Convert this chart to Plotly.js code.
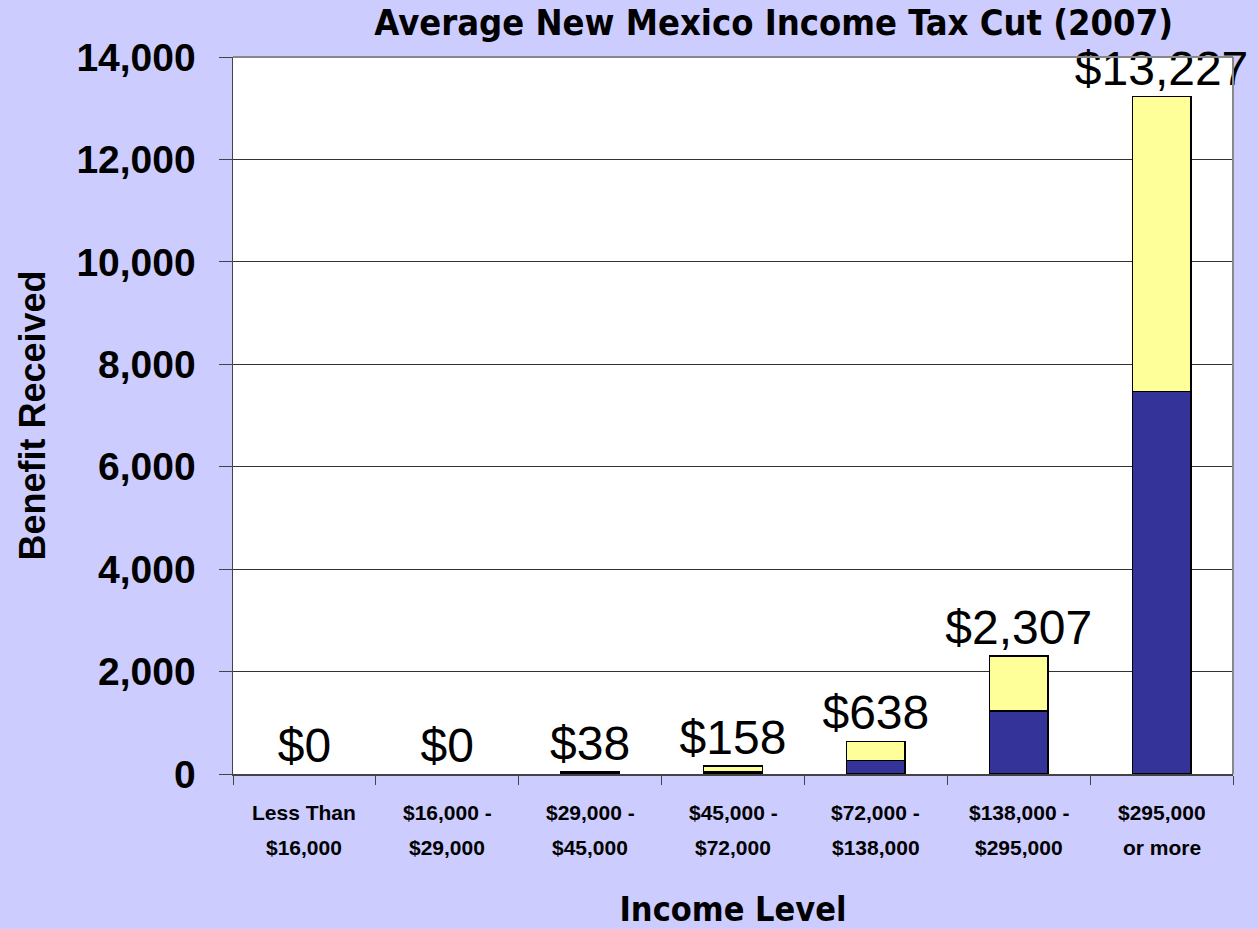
<!DOCTYPE html>
<html>
<head>
<meta charset="utf-8">
<script src="https://cdn.plot.ly/plotly-3.0.1.min.js"></script>
<style>html,body{margin:0;padding:0;background:#ccccff;}#chart{width:1258px;height:929px;}</style>
</head>
<body>
<div id="chart"></div>
<script>
const categories = ["<16k", "16-29k", "29-45k", "45-72k", "72-138k", "138-295k", "295k+"];
const tickLine1 = ["Less Than", "$16,000 -", "$29,000 -", "$45,000 -", "$72,000 -", "$138,000 -", "$295,000"];
const tickLine2 = ["$16,000", "$29,000", "$45,000", "$72,000", "$138,000", "$295,000", "or more"];
const lowerPart = [0, 0, 24, 40, 260, 1230, 7470];
const upperPart = [0, 0, 14, 118, 378, 1077, 5757];
const totals = [0, 0, 38, 158, 638, 2307, 13227];
const totalLabels = ["$0", "$0", "$38", "$158", "$638", "$2,307", "$13,227"];

const outline = v => v.map(d => d > 0 ? 1.5 : 0);
const condensed = "DejaVu Sans Condensed, Liberation Sans Narrow, Arial Narrow, sans-serif";
const sans = "Liberation Sans, Arial, sans-serif";

const traces = [
  {type: "bar", x: categories, y: lowerPart, marker: {color: "#333399", line: {color: "#000", width: outline(lowerPart)}}, width: 0.41, hoverinfo: "skip"},
  {type: "bar", x: categories, y: upperPart, marker: {color: "#ffff99", line: {color: "#000", width: outline(upperPart)}}, width: 0.41, hoverinfo: "skip"},
  {type: "scatter", mode: "text", x: categories, y: totals, text: totalLabels, textposition: "top center", cliponaxis: false,
   textfont: {family: sans, size: 48, color: "#000"}, hoverinfo: "skip"}
];

const annotations = [];
categories.forEach((c, i) => {
  annotations.push({x: c, xref: "x", y: 0, yref: "paper", yanchor: "middle", yshift: -38, showarrow: false,
    text: "<b>" + tickLine1[i] + "</b>", font: {family: sans, size: 21, color: "#000"}});
  annotations.push({x: c, xref: "x", y: 0, yref: "paper", yanchor: "middle", yshift: -73, showarrow: false,
    text: "<b>" + tickLine2[i] + "</b>", font: {family: sans, size: 21, color: "#000"}});
});

const layout = {
  width: 1258, height: 929,
  paper_bgcolor: "#ccccff", plot_bgcolor: "#ffffff",
  margin: {l: 233, r: 25, t: 57, b: 155},
  barmode: "stack", showlegend: false,
  title: {text: "<b>Average New Mexico Income Tax Cut (2007)</b>", x: 0.615, xanchor: "center", y: 0.976, yanchor: "middle",
    font: {family: condensed, size: 36, color: "#000"}},
  xaxis: {
    type: "category", tickson: "boundaries", ticks: "outside", ticklen: 9, tickcolor: "#444",
    showline: true, linecolor: "#444", linewidth: 1.5, showgrid: false, showticklabels: false,
    title: {text: "<b>Income Level</b>", font: {family: condensed, size: 34, color: "#000"}, standoff: 128}
  },
  yaxis: {
    range: [0, 14000], dtick: 2000, tickformat: ",d", ticks: "outside", ticklen: 13, tickcolor: "#444",
    ticklabelstandoff: 15,
    showline: true, linecolor: "#444", linewidth: 1.5, gridcolor: "#333", gridwidth: 1, zeroline: false,
    tickfont: {family: sans, size: 39, color: "#000", weight: "bold"},
    title: {text: "<b>Benefit Received</b>", font: {family: sans, size: 36, color: "#000"}, standoff: 20}
  },
  annotations: annotations,
  shapes: [
    {type: "line", xref: "paper", yref: "paper", x0: 0, x1: 1, y0: 1, y1: 1, line: {color: "#888", width: 2}},
    {type: "line", xref: "paper", yref: "paper", x0: 1, x1: 1, y0: 0, y1: 1, line: {color: "#888", width: 2}}
  ]
};

Plotly.newPlot("chart", traces, layout, {displayModeBar: false, staticPlot: true});
</script>
</body>
</html>
